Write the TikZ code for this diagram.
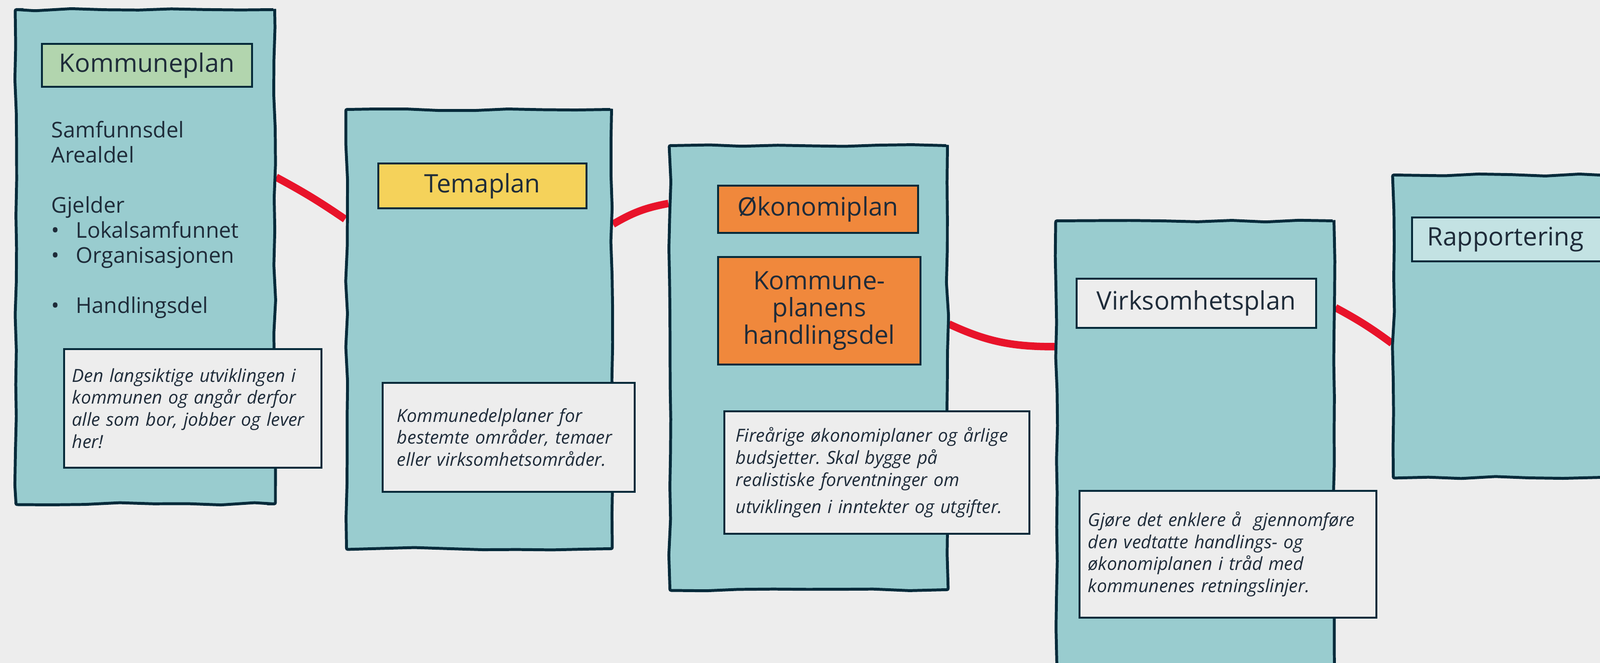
\documentclass[tikz,border=0pt]{standalone}
\usepackage{fontspec}
\setmainfont{Open Sans}
\usetikzlibrary{positioning,decorations.pathmorphing,backgrounds}

\definecolor{bggray}{HTML}{EDEDED}
\definecolor{sheetfill}{HTML}{99CCCF}
\definecolor{framecol}{HTML}{062A3A}
\definecolor{ink}{HTML}{1E2B39}
\definecolor{taggreen}{HTML}{B2D5AE}
\definecolor{tagyellow}{HTML}{F5D25A}
\definecolor{tagorange}{HTML}{F0883C}
\definecolor{tagpale}{HTML}{C3E2E3}
\definecolor{linkred}{HTML}{E8132A}

\newcommand{\kbullet}{\makebox[0.51cm][l]{\textbullet}}
\frenchspacing

\tikzset{
  sheet/.style={draw=framecol, line width=1.7pt, fill=sheetfill, anchor=north west,
    inner sep=0pt, rounded corners=0.8pt, decorate,
    decoration={random steps, segment length=20pt, amplitude=0.7pt}},
  tag/.style={draw=framecol, line width=1.1pt, text=ink, inner sep=0pt, align=center,
    font=\fontsize{15pt}{16pt}\selectfont},
  body/.style={text=ink, inner sep=0pt, align=left,
    font=\fontsize{12.8pt}{14.8pt}\selectfont},
  note/.style={draw=framecol, line width=1.1pt, fill=bggray, text=ink, align=left,
    inner ysep=0pt, font=\itshape\fontsize{10.6pt}{13pt}\selectfont},
  link/.style={draw=linkred, line width=4.4pt},
}

\begin{document}
\begin{tikzpicture}

    \useasboundingbox (0,0) rectangle (33.2,-13.75);

    % Sheets
    \node[sheet, minimum width=5.37cm, minimum height=10.25cm] (k) at (0.30,-0.17) {};
    \node[sheet, minimum width=5.50cm, minimum height=9.11cm]  (t) at (7.16,-2.24) {};
    \node[sheet, minimum width=5.76cm, minimum height=9.21cm]  (o) at (13.87,-2.99) {};
    \node[sheet, minimum width=5.76cm, minimum height=10.00cm] (v) at (21.89,-4.55) {};
    \node[sheet, minimum width=6.00cm, minimum height=6.27cm]  (r) at (28.88,-3.60) {};

    % Headings
    \node[tag, fill=taggreen, minimum width=4.36cm, minimum height=0.89cm,
          below right=0.72cm and 0.55cm of k.north west]  (kl) {Kommuneplan};
    \node[tag, fill=tagyellow, minimum width=4.32cm, minimum height=0.93cm,
          below right=1.13cm and 0.67cm of t.north west]  (tl) {Temaplan};
    \node[tag, fill=tagorange, minimum width=4.15cm, minimum height=0.98cm,
          below right=0.84cm and 1.01cm of o.north west]  (ol) {Økonomiplan};
    \node[tag, fill=tagorange, minimum width=4.20cm, minimum height=2.23cm,
          below right=0.46cm and 0cm of ol.south west]    (hl) {Kommune-\\planens\\handlingsdel};
    \node[tag, fill=bggray, minimum width=4.97cm, minimum height=1.02cm,
          below right=1.21cm and 0.43cm of v.north west]  (vl) {Virksomhetsplan};
    \node[tag, fill=tagpale, text width=3.68cm, align=left, inner xsep=0.32cm, minimum height=0.91cm,
          below right=0.89cm and 0.40cm of r.north west]  (rl) {Rapportering};

    % Contents of the first sheet
    \node[body, below right=2.33cm and 0.76cm of k.north west] (kb)
      {Samfunnsdel\\Arealdel\\[14.8pt]Gjelder\\\kbullet Lokalsamfunnet\\\kbullet Organisasjonen\\[14.8pt]\kbullet Handlingsdel};

    % Notes
    \node[note, text width=5.00cm, inner xsep=0.17cm, minimum height=2.46cm,
          below right=7.05cm and 1.01cm of k.north west] (kn)
      {Den langsiktige utviklingen i\\kommunen og angår derfor\\alle som bor, jobber og lever\\her!};
    \node[note, text width=4.63cm, inner xsep=0.30cm, minimum height=2.26cm,
          below right=5.68cm and 0.76cm of t.north west] (tn)
      {Kommunedelplaner for\\bestemte områder, temaer\\eller virksomhetsområder.};
    \node[note, text width=5.85cm, inner xsep=0.24cm, minimum height=2.54cm,
          below right=5.52cm and 1.14cm of o.north west] (okn)
      {Fireårige økonomiplaner og årlige\\budsjetter. Skal bygge på\\realistiske forventninger om\\[3pt]utviklingen i inntekter og utgifter.};
    \node[note, text width=5.80cm, inner xsep=0.18cm, minimum height=2.63cm,
          below right=5.61cm and 0.49cm of v.north west] (vn)
      {Gjøre det enklere å\ \ gjennomføre\\den vedtatte handlings- og\\økonomiplanen i tråd med\\kommunenes retningslinjer.};

    % Connect the sheets
    \begin{scope}[on background layer]
      \fill[bggray] (0,0) rectangle (33.2,-13.75);
      \draw[link] ([yshift=1.65cm]k.east) to[bend left=3] ([yshift=2.28cm]t.west);
      \draw[link] ([yshift=2.175cm]t.east) to[bend left=10] ([yshift=3.405cm]o.west);
      \draw[link] ([yshift=0.905cm]o.east) to[out=-25, in=180] ([yshift=2.39cm]v.west);
      \draw[link] ([yshift=3.2cm]v.east) to[bend left=4] ([yshift=-0.355cm]r.west);
    \end{scope}

\end{tikzpicture}
\end{document}
